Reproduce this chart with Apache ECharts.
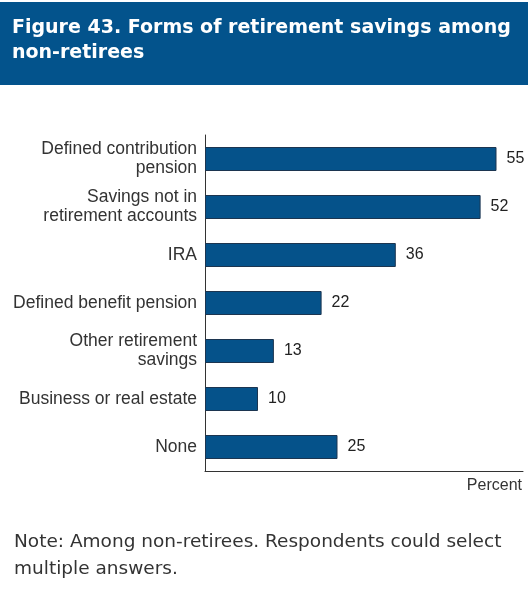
<!DOCTYPE html>
<html>
<head>
<meta charset="utf-8">
<script src="https://cdn.jsdelivr.net/npm/echarts@6/dist/echarts.min.js"></script>
<style>html,body{margin:0;padding:0;background:#fff;}#c{width:528px;height:599px;}</style>
</head>
<body>
<div id="c"></div>
<script>
const categories = [
  'Defined contribution\npension',
  'Savings not in\nretirement accounts',
  'IRA',
  'Defined benefit pension',
  'Other retirement\nsavings',
  'Business or real estate',
  'None'
];
const values = [55, 52, 36, 22, 13, 10, 25];
const titleLines = ['Figure 43. Forms of retirement savings among', 'non-retirees'];
const noteLines = ['Note: Among non-retirees. Respondents could select', 'multiple answers.'];
const axisName = 'Percent';

const chart = echarts.init(document.getElementById('c'), null, {renderer: 'canvas'});
const font = 'Liberation Sans, Arial, sans-serif';
const wide = 'DejaVu Sans, sans-serif';
chart.setOption({
  animation: false,
  backgroundColor: '#fff',
  grid: {left: 205, right: 5, top: 135, bottom: 128, containLabel: false},
  xAxis: {
    type: 'value', min: 0, max: 60,
    axisLine: {show: true, lineStyle: {color: '#333', width: 1}},
    axisTick: {show: false}, axisLabel: {show: false}, splitLine: {show: false},
    name: axisName, nameLocation: 'end', nameGap: -1,
    nameTextStyle: {fontFamily: font, fontSize: 16, color: '#333', align: 'right', verticalAlign: 'top', padding: [7, 0, 0, 0]}
  },
  yAxis: {
    type: 'category', data: categories, inverse: true,
    axisLine: {show: true, lineStyle: {color: '#333', width: 1}},
    axisTick: {show: false},
    axisLabel: {fontFamily: font, fontSize: 17.5, color: '#333', margin: 8, lineHeight: 19, align: 'right'}
  },
  series: [{
    type: 'bar', data: values, barWidth: 24,
    itemStyle: {color: '#05528A', borderColor: '#1c3550', borderWidth: 1},
    label: {show: true, position: 'right', distance: 10, fontFamily: font, fontSize: 16, color: '#222'}
  }],
  graphic: [
    {type: 'rect', shape: {x: 0, y: 2, width: 528, height: 83}, style: {fill: '#03538C'}, z: 0},
    {type: 'text', left: 12, top: 16, style: {text: titleLines.join('\n'), fill: '#fff', font: 'bold 19px ' + wide, lineHeight: 25}},
    {type: 'text', left: 14, top: 529, style: {text: noteLines.join('\n'), fill: '#333', font: '18.5px ' + wide, lineHeight: 27}}
  ]
});
</script>
</body>
</html>
